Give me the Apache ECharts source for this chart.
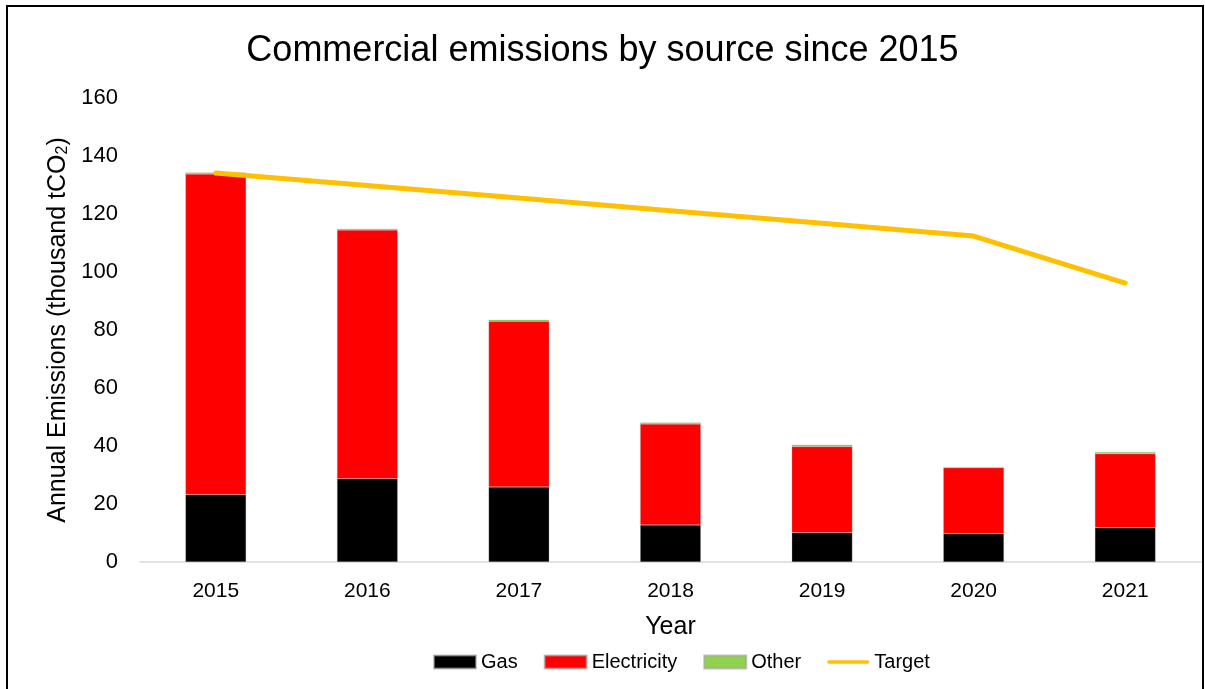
<!DOCTYPE html>
<html>
<head>
<meta charset="utf-8">
<script src="https://cdn.jsdelivr.net/npm/echarts@6/dist/echarts.min.js"></script>
<style>
  html, body { margin: 0; padding: 0; background: #fff; }
  #chart { width: 1205px; height: 689px; }
</style>
</head>
<body>
<div id="chart"></div>
<script>
const years = ['2015', '2016', '2017', '2018', '2019', '2020', '2021']
const gas = [23.2, 28.7, 25.9, 12.8, 10.1, 9.8, 11.8]
const electricity = [110.6, 85.8, 57.1, 34.8, 29.7, 22.7, 25.5]
const other = [0.5, 0.4, 0.5, 0.5, 0.6, 0.2, 0.6]
const target = [134.1, 129.8, 125.5, 121.1, 116.8, 112.4, 96.2]

const font = 'Liberation Sans, Arial, sans-serif'

const chart = echarts.init(document.getElementById('chart'))

function barSeries(name, data, color) {
  return {
    name,
    type: 'bar',
    stack: 'total',
    data,
    barWidth: '40%',
    itemStyle: { color, borderColor: 'rgba(160,160,160,0.6)', borderWidth: 0.5 },
  }
}

chart.setOption({
  animation: false,
  textStyle: { fontFamily: font },
  title: {
    text: 'Commercial emissions by source since 2015',
    left: 'center',
    top: 28,
    textStyle: { fontFamily: font, fontSize: 36, fontWeight: 'normal', color: '#000' },
  },
  graphic: [{
    type: 'rect',
    shape: { x: 7, y: 6, width: 1196, height: 700 },
    style: { fill: 'none', stroke: '#000', lineWidth: 2 },
    silent: true,
  }],
  grid: { left: 140, right: 4, top: 98, bottom: 127 },
  legend: {
    bottom: 12,
    left: 428,
    itemWidth: 42,
    itemHeight: 13,
    itemGap: 26,
    textStyle: { fontFamily: font, fontSize: 20, color: '#000' },
    data: [
      { name: 'Gas', icon: 'rect' },
      { name: 'Electricity', icon: 'rect' },
      { name: 'Other', icon: 'rect' },
      { name: 'Target', icon: 'path://M2,0 L44,0 A2,2 0 0 1 44,4 L2,4 A2,2 0 0 1 2,0 Z', itemStyle: { color: '#FFC000' } },
    ],
  },
  xAxis: {
    type: 'category',
    data: years,
    name: 'Year',
    nameLocation: 'middle',
    nameGap: 53,
    nameTextStyle: { fontFamily: font, fontSize: 25, color: '#000' },
    axisLine: { lineStyle: { color: '#d9d9d9', width: 1.5 } },
    axisTick: { show: false },
    axisLabel: { fontFamily: font, fontSize: 21, color: '#000', margin: 19 },
  },
  yAxis: {
    type: 'value',
    min: 0,
    max: 160,
    interval: 20,
    name: '{n|Annual Emissions (thousand tCO}{s|2}{n|)}',
    nameLocation: 'middle',
    nameGap: 68,
    nameTextStyle: {
      rich: {
        n: { fontFamily: font, fontSize: 25, color: '#000' },
        s: { fontFamily: font, fontSize: 16, color: '#000', verticalAlign: 'bottom' },
      },
    },
    axisLine: { show: false },
    axisTick: { show: false },
    splitLine: { show: false },
    axisLabel: { fontFamily: font, fontSize: 22, color: '#000', margin: 22 },
  },
  series: [
    barSeries('Gas', gas, '#000000'),
    barSeries('Electricity', electricity, '#FF0000'),
    barSeries('Other', other, '#92D050'),
    {
      name: 'Target',
      type: 'line',
      data: target,
      symbol: 'none',
      lineStyle: { color: '#FFC000', width: 5, cap: 'round', join: 'round' },
      itemStyle: { color: '#FFC000' },
      z: 5,
    },
  ],
})
</script>
</body>
</html>
